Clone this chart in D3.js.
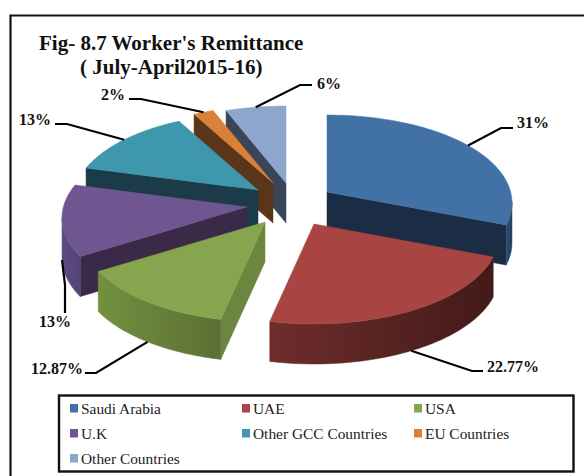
<!DOCTYPE html>
<html><head><meta charset="utf-8">
<script src="https://cdn.jsdelivr.net/npm/d3@7"></script>
<style>html,body{margin:0;padding:0;background:#fff}svg{display:block}text{font-family:"Liberation Serif","Times New Roman",serif}</style>
</head><body><div id="c"></div>
<script>
// data
const categories = ["Saudi Arabia","UAE","USA","U.K","Other GCC Countries","EU Countries","Other Countries"];
const shares = [31,22.77,12.87,13,13,2,6];
const shareLabels = ["31%","22.77%","12.87%","13%","13%","2%","6%"];
const titleLines = ["Fig- 8.7 Worker's Remittance","( July-April2015-16)"];

// style
const topColors  = ["#4271a5","#a84442","#87a44e","#6f5690","#3f97ae","#d98039","#8ea5cd"];
const wallColors = ["#1b2d45","#5a2524","#6d863f","#3a2a47","#1a3b47","#5a3517","#3a4558"];
const rimFrom    = ["#2d4a70","#6e2d2c","#72913f","#5e4a80","#2a6272","#8a5020","#5a6a88"];
const rimTo      = ["#24405f","#421a18","#5c6f34","#54437a","#2a6272","#8a5020","#5a6a88"];

// layout: where each exploded wedge's tip sits, the label positions and the elbow of each leader
const tipX = [327,314,265,247,258,273,286];
const tipY = [192,224,222,207,190,183,183];
const labelX = [517,487,31,39,19,101,317];
const labelY = [128,372,374,327,125,100,89];
const elbowX = [[501,513],[472,483],[96,85],[65,65],[67,55],[141,129],[300,312]];
const elbowY = [[128,128],[371,371],[373,373],[285,313],[124,124],[99,99],[85,85]];
const radiusX=185, radiusY=88.5, depth=40, perspY=.13, warp=7*Math.PI/180;

const W=584,H=476;
const svg=d3.select("#c").append("svg").attr("width",W).attr("height",H);
const defs=svg.append("defs");
svg.append("rect").attr("width",W).attr("height",H).attr("fill","#fff");

// outer frame: only the top and left edges fall inside the picture
svg.append("path").attr("d",d3.line()([[10.5,476],[10.5,15.5],[584,15.5]]))
   .attr("fill","none").attr("stroke","#111").attr("stroke-width",2.2);

svg.selectAll("text.title").data(titleLines).join("text").attr("class","title")
   .attr("x",(d,i)=>i?80:39).attr("y",(d,i)=>i?74:50)
   .attr("font-size",21).attr("font-weight","bold").attr("fill","#111")
   .attr("xml:space","preserve").text(d=>d);

const arcs=d3.pie().sort(null).value(d=>d)(shares);
const rim=(i,a,dz=0)=>{
  const Y=-Math.cos(a);
  return [tipX[i]+radiusX*Math.sin(a-warp*Math.sin(a)),
          tipY[i]+radiusY*Y*(1+perspY*Y)+dz];
};
const line=d3.line();
const poly=(g,pts,c)=>g.append("path").attr("d",line(pts)+"Z").attr("fill",c).attr("stroke",c).attr("stroke-width",.5);

// back to front
[6,5,4,0,3,2,1].forEach(i=>{
  const A=arcs[i], g=svg.append("g");
  const tip=[tipX[i],tipY[i]], tipD=[tipX[i],tipY[i]+depth];
  const angles=d3.range(0,61).map(k=>A.startAngle+(A.endAngle-A.startAngle)*k/60);
  if(Math.sin(A.startAngle)<-1e-6) poly(g,[tip,rim(i,A.startAngle),rim(i,A.startAngle,depth),tipD],wallColors[i]);
  if(Math.sin(A.endAngle)>1e-6)   poly(g,[tip,rim(i,A.endAngle),rim(i,A.endAngle,depth),tipD],wallColors[i]);
  const vis=angles.filter((a,k)=>k<60 && rim(i,angles[k+1])[0]<rim(i,a)[0]);
  if(vis.length){
    vis.push(vis[vis.length-1]+(A.endAngle-A.startAngle)/60);
    const xs=vis.map(a=>rim(i,a)[0]);
    const id="rim"+i;
    const grad=defs.append("linearGradient").attr("id",id).attr("gradientUnits","userSpaceOnUse")
       .attr("x1",d3.min(xs)).attr("x2",d3.max(xs)).attr("y1",0).attr("y2",0);
    grad.append("stop").attr("offset",0).attr("stop-color",rimFrom[i]);
    grad.append("stop").attr("offset",1).attr("stop-color",rimTo[i]);
    poly(g,[...vis.map(a=>rim(i,a)),...vis.slice().reverse().map(a=>rim(i,a,depth))],`url(#${id})`);
  }
  poly(g,[tip,...angles.map(a=>rim(i,a))],topColors[i]);
});

// leaders and labels
arcs.forEach((A,i)=>{
  const mid=(A.startAngle+A.endAngle)/2;
  const start=rim(i,mid,-Math.cos(mid)>0?depth:0);
  svg.append("path")
     .attr("d",line([start,[elbowX[i][0],elbowY[i][0]],[elbowX[i][1],elbowY[i][1]]]))
     .attr("fill","none").attr("stroke","#000").attr("stroke-width",2.2);
  svg.append("text").attr("x",labelX[i]).attr("y",labelY[i])
     .attr("font-size",16).attr("font-weight","bold").attr("fill","#111").text(shareLabels[i]);
});

// legend
svg.append("rect").attr("x",59).attr("y",395.5).attr("width",514.5).attr("height",76)
   .attr("fill","#fff").attr("stroke","#111").attr("stroke-width",2.4);
const colX=d3.scalePoint().domain([0,1,2]).range([70,414]);
const rowY=d3.scalePoint().domain([0,1,2]).range([404,454]);
const lg=svg.selectAll("g.lg").data(categories).join("g").attr("class","lg")
   .attr("transform",(d,i)=>`translate(${colX(i%3)},${rowY(Math.floor(i/3))})`);
lg.append("rect").attr("width",8).attr("height",8.5).attr("fill",(d,i)=>topColors[i]);
lg.append("text").attr("x",11).attr("y",10).attr("font-size",15.4).attr("fill","#222").text(d=>d);
</script></body></html>
